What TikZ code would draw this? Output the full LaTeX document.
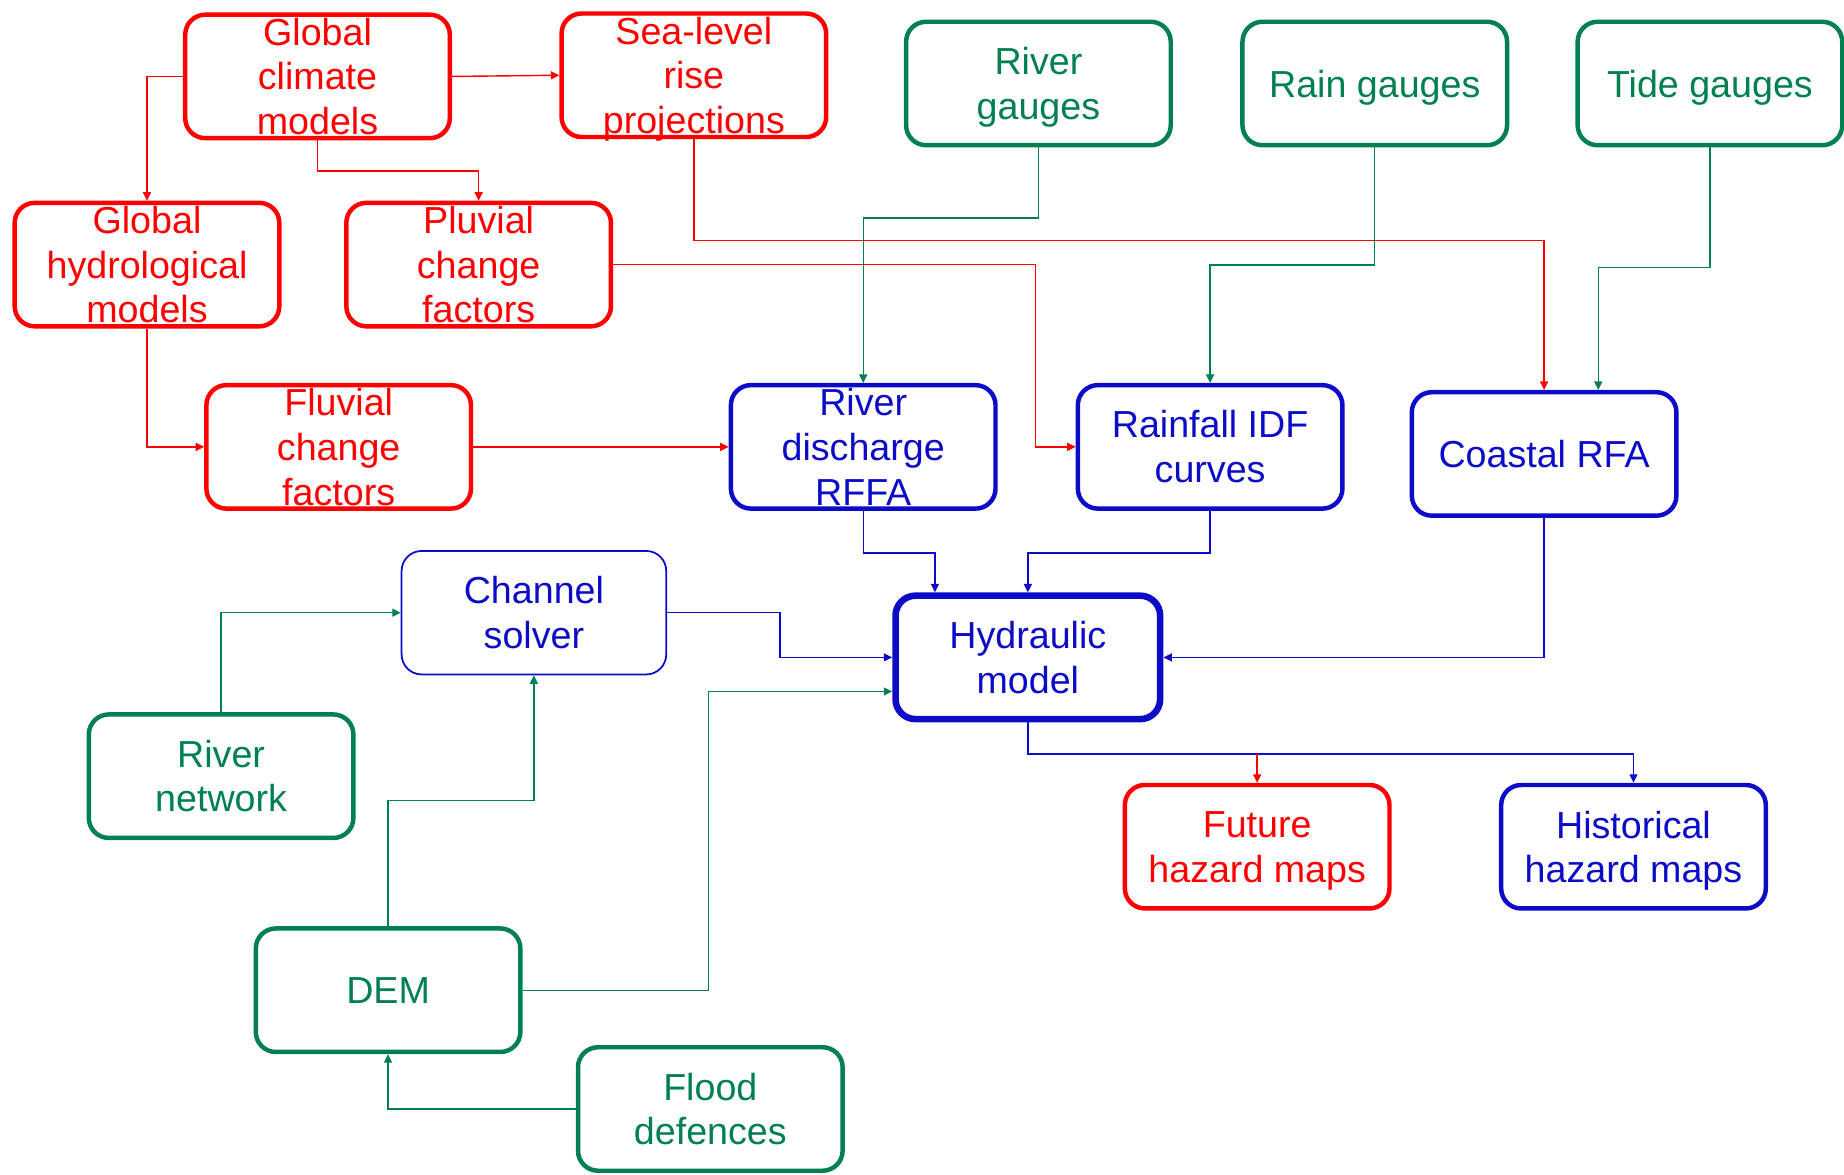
\documentclass[tikz,border=0pt]{standalone}
\usepackage{fontspec}
\setmainfont{Liberation Sans}
\usetikzlibrary{arrows.meta}
\definecolor{cred}{RGB}{255,0,0}
\definecolor{cgreen}{RGB}{0,128,80}
\definecolor{cblue}{RGB}{12,12,200}
\newcommand\nodepth[1]{\raisebox{0pt}[\height][0pt]{#1}}
\tikzset{
  box/.style={draw, rounded corners=8.5pt, minimum width=112.5pt, minimum height=52.5pt,
    inner sep=0pt, align=center, line width=1.9pt,
    font=\fontsize{16}{19}\selectfont},
  redbox/.style={box, draw=cred, text=cred},
  greenbox/.style={box, draw=cgreen, text=cgreen},
  bluebox/.style={box, draw=cblue, text=cblue},
  conn/.style={line width=0.6pt, -{Triangle[length=3.6pt,width=3.4pt]}},
  rc/.style={conn, draw=cred},
  gc/.style={conn, draw=cgreen},
  bc/.style={conn, draw=cblue},
}
\begin{document}
\begin{tikzpicture}[x=0.5pt,y=-0.5pt]
\useasboundingbox (0,0) rectangle (1568,999);
% nodes
\node[redbox] (gcm) at (270,65) {Global\\climate\\models};
\node[redbox] (slr) at (590,64) {Sea-level\\rise\\\nodepth{projections}};
\node[greenbox] (rg) at (883,71) {River\\\nodepth{gauges}};
\node[greenbox] (raing) at (1169,71) {\nodepth{Rain gauges}};
\node[greenbox] (tg) at (1454,71) {\nodepth{Tide gauges}};
\node[redbox] (ghm) at (125,225) {Global\\hydrological\\models};
\node[redbox] (pcf) at (407,225) {Pluvial\\change\\factors};
\node[redbox] (fcf) at (288,380) {Fluvial\\change\\factors};
\node[bluebox] (rffa) at (734,380) {River\\discharge\\RFFA};
\node[bluebox] (idf) at (1029,380) {Rainfall IDF\\curves};
\node[bluebox] (crfa) at (1313,386) {Coastal RFA};
\node[bluebox, line width=0.75pt] (cs) at (454,521) {Channel\\solver};
\node[bluebox, line width=2.8pt] (hyd) at (874,559) {Hydraulic\\model};
\node[greenbox] (rn) at (188,660) {River\\network};
\node[redbox] (fut) at (1069,720) {Future\\\nodepth{hazard maps}};
\node[bluebox] (hist) at (1389,720) {Historical\\\nodepth{hazard maps}};
\node[greenbox] (dem) at (330,842) {DEM};
\node[greenbox] (fd) at (604,943) {Flood\\defences};
% red connectors
\draw[rc] (gcm.west) -| (ghm.north);
\draw[rc] (gcm.east) -- (slr.west);
\draw[rc] (gcm.south) -- ++(0,26) -| (pcf.north);
\draw[rc] (slr.south) -- ++(0,86) -| (crfa.north);
\draw[rc] (pcf.east) -- ++(359,0) |- (idf.west);
\draw[rc] (ghm.south) |- (fcf.west);
\draw[rc] (fcf.east) -- (rffa.west);
% green connectors
\draw[gc] (rg.south) -- ++(0,60) -| (rffa.north);
\draw[gc] (raing.south) -- ++(0,100) -| (idf.north);
\draw[gc] (tg.south) -- ++(0,102) -| ([xshift=23pt]crfa.north);
\draw[gc] (rn.north) |- (cs.west);
\draw[gc] (dem.north) -- ++(0,-107) -| (cs.south);
\draw[gc] (dem.east) -- ++(158,0) |- ([yshift=-14.5pt]hyd.west);
\draw[gc] (fd.west) -| (dem.south);
% blue connectors
\draw[bc] (rffa.south) -- ++(0,36) -| ([xshift=-39.5pt]hyd.north);
\draw[bc] (idf.south) -- ++(0,36) -| (hyd.north);
\draw[bc] (crfa.south) |- (hyd.east);
\draw[bc] (cs.east) -- ++(96,0) |- (hyd.west);
\draw[bc] (hyd.south) -- ++(0,27) coordinate (j) -| (hist.north);
\draw[rc] (fut.north |- j) -- (fut.north);
\end{tikzpicture}
\end{document}
